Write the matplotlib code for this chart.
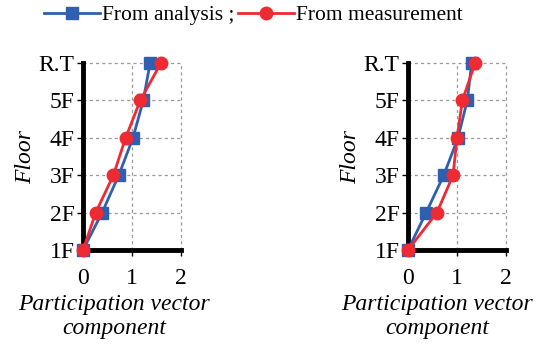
import numpy as np
import matplotlib.pyplot as plt

plt.rcParams['font.family'] = ['Liberation Serif', 'DejaVu Serif']
plt.rcParams['font.size'] = 17

# Data
floors = ['1F', '2F', '3F', '4F', '5F', 'R.T']
analysis_left = [0.0, 0.39, 0.73, 1.02, 1.23, 1.37]
measure_left = [0.0, 0.26, 0.62, 0.87, 1.17, 1.59]
analysis_right = [0.0, 0.37, 0.73, 1.02, 1.21, 1.30]
measure_right = [0.0, 0.59, 0.92, 1.00, 1.11, 1.37]

blue = '#2F5FAE'
red = '#EE2B32'

fig = plt.figure(figsize=(5.45, 3.51), dpi=100)
ax1 = fig.add_axes([83 / 545, 1 - 250 / 351, 98 / 545, 187 / 351])
ax2 = fig.add_axes([408 / 545, 1 - 250 / 351, 98 / 545, 187 / 351])

y = np.arange(len(floors))
for ax, a, m, lx in [(ax1, analysis_left, measure_left, 0.32),
                     (ax2, analysis_right, measure_right, 0.30)]:
    la, = ax.plot(a, y, color=blue, lw=2, marker='s', ms=8, label='From analysis ;', zorder=3, clip_on=False)
    lm, = ax.plot(m, y, color=red, lw=2, marker='o', ms=9, label='From measurement', zorder=4, clip_on=False)
    ax.set_xlim(0, 2)
    ax.set_ylim(0, 5)
    ax.set_xticks([0, 1, 2])
    ax.set_yticks(y)
    ax.set_yticklabels(floors)
    ax.grid(True, color='#999999', linestyle=(0, (2.5, 2.5)), linewidth=0.9)
    for gl in ax.get_xgridlines() + ax.get_ygridlines():
        gl.set_clip_on(False)
    ax.set_axisbelow(True)
    for s in ['top', 'right']:
        ax.spines[s].set_visible(False)
    for s in ['left', 'bottom']:
        ax.spines[s].set_linewidth(3.5)
        ax.spines[s].set_zorder(2)
    ax.tick_params(direction='out', length=4, width=1, pad=2)
    ax.tick_params(axis='x', pad=9)
    ax.set_ylabel('Floor', style='italic', labelpad=2)
    ax.set_xlabel('Participation vector\ncomponent', style='italic', linespacing=1.2)
    ax.xaxis.set_label_coords(lx, -0.235)

fig.legend(handles=[la, lm], loc='center', bbox_to_anchor=(253.5 / 545, 1 - 15 / 351), ncol=2,
           frameon=False, handlelength=2.6, columnspacing=0.15, handletextpad=0.1,
           fontsize=15.5, borderpad=0)

plt.savefig('out.png', dpi=100, facecolor='white')
